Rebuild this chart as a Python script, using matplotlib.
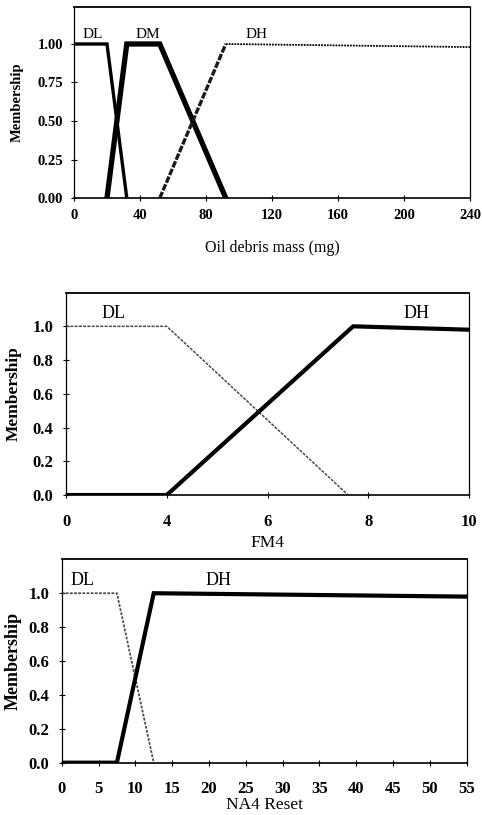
import matplotlib
matplotlib.use("Agg")
import matplotlib.pyplot as plt
import numpy as np
from matplotlib.ticker import FormatStrFormatter

plt.rcParams['font.family'] = ['Liberation Serif', 'DejaVu Serif']
plt.rcParams['font.size'] = 10

# --- oil debris mass (mg)
debris_dl_x = [0, 20, 32]
debris_dl_y = [1, 1, 0]
debris_dm_x = [20, 32, 52, 92]
debris_dm_y = [0, 1, 1, 0]
debris_dh_x = [52, 92, 240]
debris_dh_y = [0, 1, 0.98]
debris_ticks = [0, 40, 80, 120, 160, 200, 240]

# --- FM4
fm4_dl_x = [0, 4, 7.6]
fm4_dl_y = [1, 1, 0]
fm4_dh_x = [0, 4, 7.7, 10]
fm4_dh_y = [0, 0, 1, 0.98]
fm4_ticks = [0, 4, 6, 8, 10]

# --- NA4 reset
na4_dl_x = [0, 7.5, 12.5]
na4_dl_y = [1, 1, 0]
na4_dh_x = [0, 7.5, 12.5, 55]
na4_dh_y = [0, 0, 1, 0.98]
na4_ticks = list(range(0, 60, 5))


def fm4_fwd(x):
    # the FM4 axis is squeezed between 0 and 4
    x = np.asarray(x, dtype=float)
    return np.where(x < 4, x / 2, x - 2)


def fm4_inv(y):
    y = np.asarray(y, dtype=float)
    return np.where(y < 2, y * 2, y + 2)


def style_axes(ax, fs, xpad, ypad, ylab_fs, ylab_x):
    ax.spines['left'].set_linestyle((0, (1, 1)))
    ax.spines['left'].set_linewidth(0.9)
    ax.spines['right'].set_linestyle((0, (1, 1)))
    ax.spines['right'].set_linewidth(0.9)
    ax.spines['top'].set_linewidth(1.3)
    ax.spines['bottom'].set_linewidth(1.2)
    ax.tick_params(direction='inout', length=4, width=0.8, labelsize=fs)
    ax.tick_params(axis='x', pad=xpad)
    ax.tick_params(axis='y', pad=ypad)
    for lab in ax.get_xticklabels() + ax.get_yticklabels():
        lab.set_fontweight('bold')
    ax.set_ylabel('Membership', fontsize=ylab_fs, fontweight='bold')
    ax.yaxis.set_label_coords(ylab_x, 0.5)


fig = plt.figure(figsize=(4.82, 8.15), dpi=100)

# panel 1
ax1 = fig.add_axes([0.1535, 0.757, 0.8215, 0.2344])
ax1.plot(debris_dl_x, debris_dl_y, color='black', lw=2.4, solid_joinstyle='miter')
ax1.plot(debris_dm_x, debris_dm_y, color='black', lw=3.8, solid_joinstyle='miter')
ax1.plot(debris_dh_x[:2], debris_dh_y[:2], color='0.1', lw=2.4, ls=(0, (2, 0.5)))
ax1.plot(debris_dh_x[1:], debris_dh_y[1:], color='black', lw=1.3, ls=(0, (1, 0.6)))
ax1.set_xlim(0, 240)
ax1.set_ylim(0, 1.24)
ax1.set_xticks(debris_ticks)
ax1.set_yticks([0, 0.25, 0.5, 0.75, 1.0])
ax1.yaxis.set_major_formatter(FormatStrFormatter('%.2f'))
ax1.text(5, 1.04, 'DL', fontsize=11)
ax1.text(37, 1.04, 'DM', fontsize=11)
ax1.text(104, 1.04, 'DH', fontsize=11)
ax1.set_xlabel('Oil debris mass (mg)', fontsize=11.5, labelpad=13)
style_axes(ax1, 10.5, 6, 6, 10.5, -0.126)

# panel 2
ax2 = fig.add_axes([0.137, 0.3926, 0.836, 0.2484])
ax2.set_xscale('function', functions=(fm4_fwd, fm4_inv))
ax2.plot(fm4_dl_x, fm4_dl_y, color='0.3', lw=1.1, ls=(0, (2, 0.8)))
ax2.plot(fm4_dh_x, fm4_dh_y, color='black', lw=3, solid_joinstyle='miter')
ax2.set_xlim(0, 10)
ax2.set_ylim(0, 1.2)
ax2.set_xticks(fm4_ticks)
ax2.set_xticklabels([str(t) for t in fm4_ticks])
ax2.set_yticks([0, 0.2, 0.4, 0.6, 0.8, 1.0])
ax2.yaxis.set_major_formatter(FormatStrFormatter('%.1f'))
ax2.text(1.4, 1.05, 'DL', fontsize=13)
ax2.text(8.7, 1.05, 'DH', fontsize=13)
ax2.set_xlabel('FM4', fontsize=12.5, labelpad=3)
style_axes(ax2, 12, 12, 7, 12.5, -0.109)

# panel 3
ax3 = fig.add_axes([0.128, 0.0642, 0.84, 0.2495])
ax3.plot(na4_dl_x, na4_dl_y, color='0.3', lw=1.3, ls=(0, (1.5, 0.8)))
ax3.plot(na4_dh_x, na4_dh_y, color='black', lw=3, solid_joinstyle='miter')
ax3.set_xlim(0, 55)
ax3.set_ylim(0, 1.2)
ax3.set_xticks(na4_ticks)
ax3.set_yticks([0, 0.2, 0.4, 0.6, 0.8, 1.0])
ax3.yaxis.set_major_formatter(FormatStrFormatter('%.1f'))
ax3.text(1.2, 1.05, 'DL', fontsize=13)
ax3.text(19.5, 1.05, 'DH', fontsize=13)
ax3.set_xlabel('NA4 Reset', fontsize=12.5, labelpad=0)
style_axes(ax3, 12, 11, 7, 13, -0.098)

fig.savefig('out.png', dpi=100)
